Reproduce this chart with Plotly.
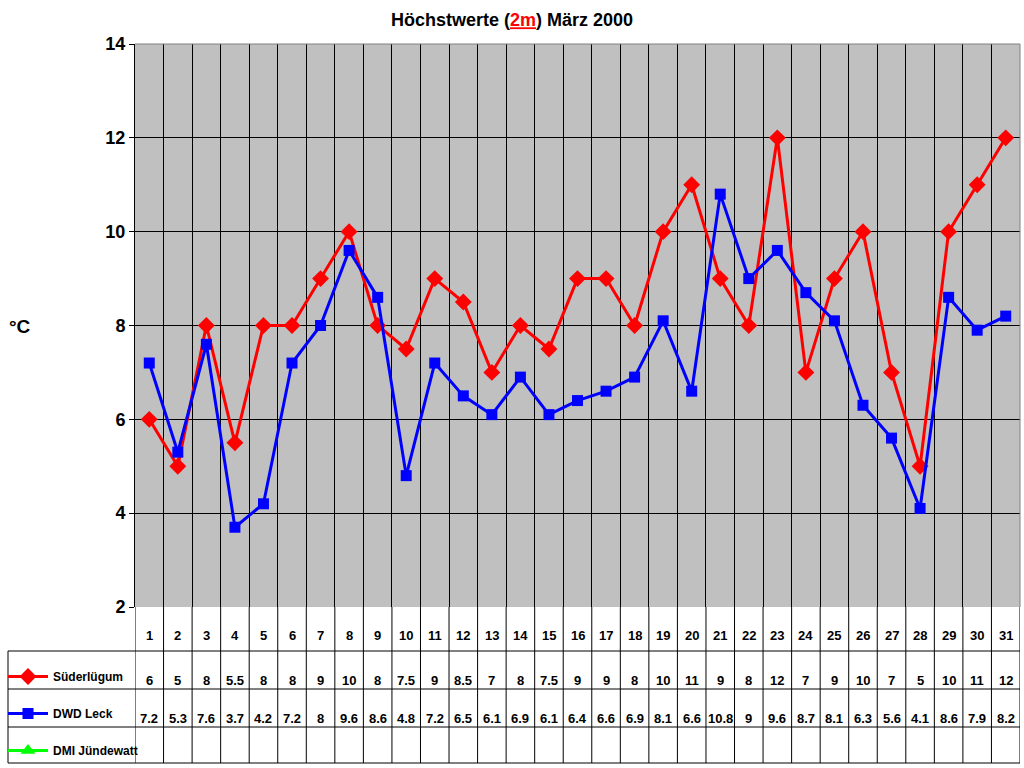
import plotly.graph_objects as go

# Daten Maerz 2000, Hoechstwerte in 2 m Hoehe
tage = list(range(1, 32))
suederluegum = [6, 5, 8, 5.5, 8, 8, 9, 10, 8, 7.5, 9, 8.5, 7, 8, 7.5, 9,
                9, 8, 10, 11, 9, 8, 12, 7, 9, 10, 7, 5, 10, 11, 12]
dwd_leck = [7.2, 5.3, 7.6, 3.7, 4.2, 7.2, 8, 9.6, 8.6, 4.8, 7.2, 6.5, 6.1, 6.9, 6.1, 6.4,
            6.6, 6.9, 8.1, 6.6, 10.8, 9, 9.6, 8.7, 8.1, 6.3, 5.6, 4.1, 8.6, 7.9, 8.2]
dmi_juendewatt = []  # keine Werte

W, H = 1024, 768
L, R, T, B = 135, 1020, 44, 607


def py(p):
    # Pixel (von oben) -> paper-Koordinate
    return 1 - p / H


def px(p):
    return p / W


fig = go.Figure()

fig.add_trace(go.Scatter(
    x=tage, y=suederluegum, name='<b>Süderlügum</b>', mode='lines+markers',
    line=dict(color='#FF0000', width=3),
    marker=dict(symbol='diamond', size=13, color='#FF0000'),
    legendgroup='a'))
fig.add_trace(go.Scatter(
    x=tage, y=dwd_leck, name='<b>DWD Leck</b>', mode='lines+markers',
    line=dict(color='#0000FF', width=3),
    marker=dict(symbol='square', size=11, color='#0000FF'),
    legendgroup='b'))
fig.add_trace(go.Scatter(
    x=tage[:len(dmi_juendewatt)] or [None], y=dmi_juendewatt or [None],
    name='<b>DMI Jündewatt</b>', mode='lines+markers',
    line=dict(color='#00FF00', width=3),
    marker=dict(symbol='triangle-up', size=13, color='#00FF00'),
    legendgroup='c'))

font_b = dict(family='Arial', size=13, color='black')

# Tabelle unter dem Diagramm (Textposition leicht nach unten versetzt)
dy = 9
zeilen = [(651, 689, suederluegum), (689, 727, dwd_leck), (727, 763, dmi_juendewatt)]
for t in tage:
    fig.add_annotation(x=t, y=py(636 + dy), xref='x', yref='paper', text=f'<b>{t}</b>',
                       showarrow=False, font=font_b)
for oben, unten, werte in zeilen:
    for t, v in zip(tage, werte):
        fig.add_annotation(x=t, y=py(unten - 8 + dy), xref='x', yref='paper',
                           text=f'<b>{v:g}</b>', showarrow=False, font=font_b)

shapes = []
for yy in [651, 689, 727, 763]:
    shapes.append(dict(type='line', xref='paper', yref='paper', x0=px(8), x1=px(L),
                       y0=py(yy), y1=py(yy), line=dict(color='black', width=1)))
    shapes.append(dict(type='line', xref='x', yref='paper', x0=0.5, x1=31.5,
                       y0=py(yy), y1=py(yy), line=dict(color='black', width=1)))
for i in range(32):
    shapes.append(dict(type='line', xref='x', yref='paper', x0=i + 0.5, x1=i + 0.5,
                       y0=py(B), y1=py(763), line=dict(color='black', width=1)))
shapes.append(dict(type='line', xref='paper', yref='paper', x0=px(8), x1=px(8),
                   y0=py(651), y1=py(763), line=dict(color='black', width=1)))
# Rahmen des Diagramms
shapes.append(dict(type='line', xref='paper', yref='paper', x0=px(L), x1=px(R),
                   y0=py(T), y1=py(T), line=dict(color='#808080', width=1)))
shapes.append(dict(type='line', xref='paper', yref='paper', x0=px(R), x1=px(R),
                   y0=py(T), y1=py(B), line=dict(color='#808080', width=1)))

fig.update_layout(
    template='none',
    width=W, height=H,
    margin=dict(l=0, r=0, t=0, b=0, pad=0),
    paper_bgcolor='white',
    plot_bgcolor='#C0C0C0',
    shapes=shapes,
    title=dict(text='<b>Höchstwerte (<span style="color:#FF0000;text-decoration:underline">2m</span>) März 2000</b>',
               x=0.5, xanchor='center', y=py(20), yanchor='middle',
               font=dict(family='Arial', size=18, color='black')),
    xaxis=dict(domain=[px(L), px(R)], range=[0.5, 31.5], automargin=False,
               tickvals=[i + 0.5 for i in range(32)], showticklabels=False,
               showgrid=True, gridcolor='black', gridwidth=1, zeroline=False, ticks=''),
    yaxis=dict(domain=[py(B), py(T)], range=[2, 14], dtick=2, automargin=False,
               showgrid=True, gridcolor='black', gridwidth=1, zeroline=False,
               showline=True, linecolor='black', linewidth=1,
               ticks='outside', ticklen=5, tickcolor='black',
               tickfont=dict(family='Arial', size=18, color='black'),
               tickprefix='<b>', ticksuffix='</b>'),
    legend=dict(x=px(3), y=py(662), xanchor='left', yanchor='top',
                bgcolor='rgba(0,0,0,0)', font=dict(family='Arial', size=12, color='black'),
                tracegroupgap=18, itemwidth=40),
    showlegend=True,
)

fig.add_annotation(x=px(20), y=py(326), xref='paper', yref='paper', text='<b>°C</b>',
                   xanchor='center', showarrow=False,
                   font=dict(family='Arial', size=19, color='black'))

fig.write_html('out.html', config={'displayModeBar': False},
               post_script="document.body.style.margin='0';")
